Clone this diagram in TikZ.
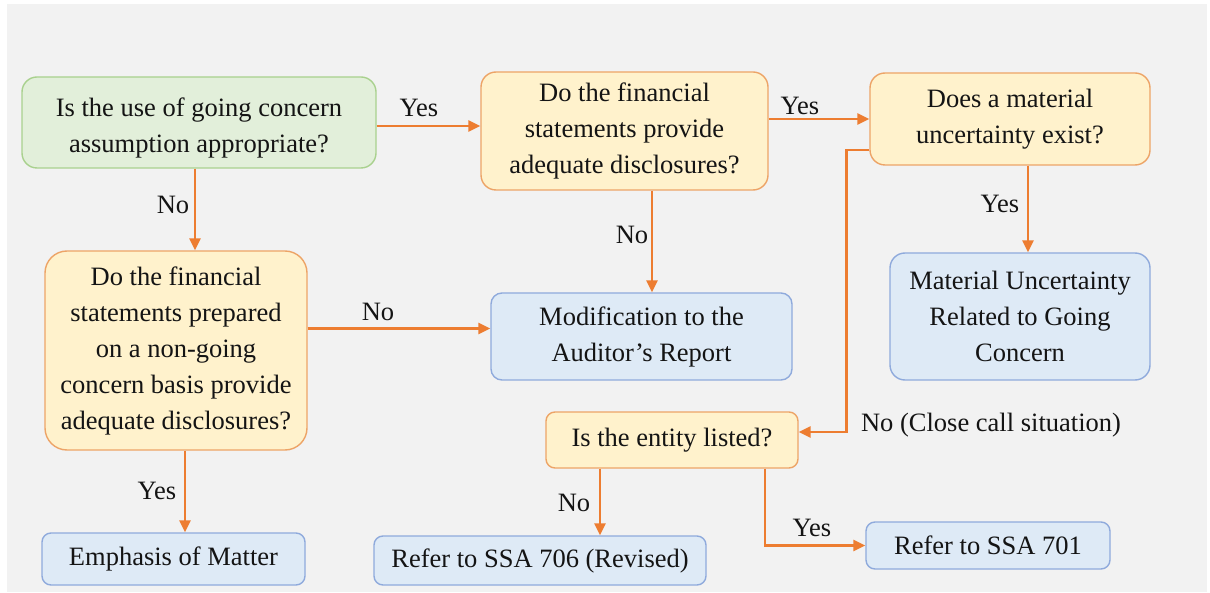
\documentclass[tikz,border=0pt]{standalone}
\usepackage{fontspec}
\setmainfont{Liberation Serif}
\usetikzlibrary{arrows.meta,calc}
\definecolor{bgc}{HTML}{F2F2F2}
\definecolor{gfill}{HTML}{E2EFDA}
\definecolor{gdraw}{HTML}{A9D18E}
\definecolor{yfill}{HTML}{FFF2CC}
\definecolor{ydraw}{HTML}{EDA467}
\definecolor{bfill}{HTML}{DEEAF6}
\definecolor{bdraw}{HTML}{8FAADC}
\definecolor{arrc}{HTML}{ED7D31}
\definecolor{txt}{HTML}{141414}
\tikzset{
  basebox/.style={rounded corners=15pt, line width=1.4pt, align=center, inner sep=0pt,
    font=\fontsize{26.5}{36}\selectfont, text=txt},
  gbox/.style={basebox, fill=gfill, draw=gdraw},
  ybox/.style={basebox, fill=yfill, draw=ydraw},
  bbox/.style={basebox, fill=bfill, draw=bdraw, rounded corners=11pt},
  arr/.style={draw=arrc, line width=2.6pt, -{Triangle[length=12pt,width=11pt]}},
  lbl/.style={font=\fontsize{26.5}{32}\selectfont, text=txt, inner sep=0pt}
}
\begin{document}
\begin{tikzpicture}[x=1pt,y=-1pt]
\useasboundingbox (0,0) rectangle (1210,593);
\fill[white] (0,0) rectangle (1210,593);
\fill[bgc] (7,4) rectangle (1207,592);

\node[gbox, minimum width=354pt, minimum height=91pt] (q1) at (199,122.5)
  {\raisebox{-5pt}[\height][\depth]{\begin{tabular}{@{}c@{}}Is the use of going concern\\assumption appropriate?\end{tabular}}};
\node[ybox, minimum width=287pt, minimum height=118pt] (q2) at (624.5,131)
  {Do the financial\\statements provide\\adequate disclosures?};
\node[ybox, minimum width=280pt, minimum height=92pt] (q3) at (1010,119)
  {Does a material\\uncertainty exist?};
\node[ybox, minimum width=262pt, minimum height=199pt, rounded corners=22pt] (q4) at (176,350.5)
  {Do the financial\\statements prepared\\on a non-going\\concern basis provide\\adequate disclosures?};
\node[bbox, minimum width=301pt, minimum height=87pt] (m1) at (641.5,336.5)
  {Modification to the\\Auditor’s Report};
\node[bbox, minimum width=260pt, minimum height=127pt, rounded corners=15pt] (m2) at (1020,316.5)
  {Material Uncertainty\\Related to Going\\Concern};
\node[ybox, minimum width=252pt, minimum height=56pt, rounded corners=9pt] (q5) at (672,440)
  {Is the entity listed?};
\node[bbox, minimum width=263pt, minimum height=52pt, rounded corners=9pt] (e1) at (173.5,559)
  {Emphasis of Matter};
\node[bbox, minimum width=332pt, minimum height=49pt, rounded corners=9pt] (e2) at (540,560.5)
  {Refer to SSA 706 (Revised)};
\node[bbox, minimum width=244pt, minimum height=47pt, rounded corners=9pt] (e3) at (988,545.5)
  {Refer to SSA 701};

% start points of connectors
\coordinate (s1) at ($(q1.east)+(0,3.5)$);
\coordinate (s3) at ($(q1.south)+(-4,0)$);
\coordinate (s4) at ($(q2.south)+(27.5,0)$);
\coordinate (s5) at ($(q4.east)+(0,-22)$);
\coordinate (s6) at ($(q3.south)+(18,0)$);
\coordinate (s7) at ($(q3.west)+(0,31)$);
\coordinate (t7) at ($(q5.east)+(0,-8)$);
\coordinate (s8) at ($(q5.south)+(-72,0)$);
\coordinate (s9) at ($(q5.south)+(93,0)$);
\coordinate (s10) at ($(q4.south)+(9,0)$);

% connectors
\draw[arr] (s1) -- (s1 -| q2.west);
\draw[arr] (q2.east |- q3.west) -- (q3.west);
\draw[arr] (s3) -- (s3 |- q4.north);
\draw[arr] (s4) -- (s4 |- m1.north);
\draw[arr] (s5) -- (s5 -| m1.west);
\draw[arr] (s6) -- (s6 |- m2.north);
\draw[arr] (s7) -- ++(-23,0) |- (t7);
\draw[arr] (s8) -- (s8 |- e2.north);
\draw[arr] (s9) |- (e3.west);
\draw[arr] (s10) -- (s10 |- e1.north);

% labels
\node[lbl] (l1) at (419,108) {Yes};
\node[lbl] (l2) at (800,106) {Yes};
\node[lbl] (l3) at (173,205) {No};
\node[lbl] (l4) at (632,235) {No};
\node[lbl] (l5) at (378,312) {No};
\node[lbl] (l6) at (1000,204) {Yes};
\node[lbl] (l7) at (991,425) {No (Close call situation)};
\node[lbl] (l8) at (574,503) {No};
\node[lbl] (l9) at (812,528) {Yes};
\node[lbl] (l10) at (157,491) {Yes};
\end{tikzpicture}
\end{document}
